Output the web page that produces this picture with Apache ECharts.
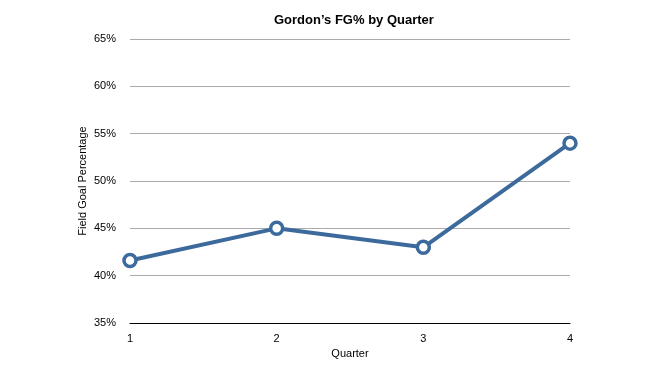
<!DOCTYPE html>
<html><head><meta charset="utf-8">
<script src="https://cdn.jsdelivr.net/npm/echarts@6/dist/echarts.min.js"></script>
<style>html,body{margin:0;padding:0;background:#fff}#c{width:663px;height:365px}</style>
</head><body><div id="c"></div>
<script>
const quarters = ['1', '2', '3', '4'];
const fgPct = [41.6, 45.0, 43.0, 54.0];
const yTicks = [35, 40, 45, 50, 55, 60, 65];

const chart = echarts.init(document.getElementById('c'));
const font = 'Liberation Sans, Arial, Helvetica, sans-serif';
chart.setOption({
  animation: false,
  title: {
    text: 'Gordon\u2019s FG% by Quarter', left: 269, top: 9,
    textStyle: { fontFamily: font, fontSize: 13, fontWeight: 'bold', color: '#000' }
  },
  grid: { left: 130, right: 93, top: 39, bottom: 42 },
  xAxis: {
    type: 'category', data: quarters, boundaryGap: false,
    name: 'Quarter', nameLocation: 'middle', nameGap: 25,
    nameTextStyle: { fontFamily: font, fontSize: 11, color: '#000' },
    axisLine: { lineStyle: { color: '#000', width: 1 } },
    axisTick: { show: false },
    axisLabel: { fontFamily: font, fontSize: 11, color: '#000', margin: 10 }
  },
  yAxis: {
    type: 'value', min: yTicks[0], max: yTicks[yTicks.length - 1], interval: 5,
    name: 'Field Goal Percentage', nameLocation: 'middle', nameGap: 42, nameRotate: 90,
    nameMoveOverlap: false,
    nameTextStyle: { fontFamily: font, fontSize: 11, color: '#000' },
    axisLine: { show: false }, axisTick: { show: false },
    axisLabel: { fontFamily: font, fontSize: 11, color: '#000', margin: 14, formatter: v => v + '%' },
    splitLine: { lineStyle: { color: '#aaaaaa', width: 1 } }
  },
  series: [{
    type: 'line', data: fgPct,
    lineStyle: { color: '#3d6a9c', width: 4 },
    symbol: 'circle', symbolSize: 12,
    itemStyle: { color: '#ffffff', borderColor: '#3d6a9c', borderWidth: 3.5 }
  }]
});
</script></body></html>
